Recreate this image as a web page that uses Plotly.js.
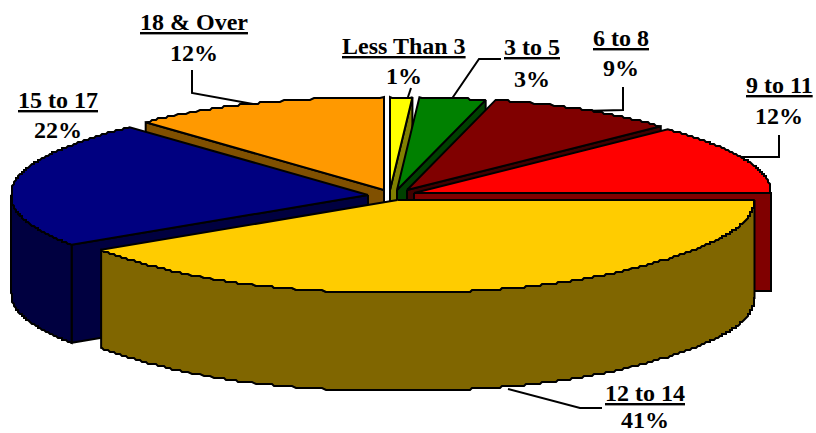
<!DOCTYPE html>
<html><head><meta charset="utf-8">
<script src="https://cdn.plot.ly/plotly-3.0.1.min.js"></script>
<style>html,body{margin:0;padding:0;background:#fff}#c{width:816px;height:433px}</style>
</head><body><div id="c"></div>
<script>
// Data
const categories = ["Less Than 3","3 to 5","6 to 8","9 to 11","12 to 14","15 to 17","18 & Over"];
const percents = [1,3,9,12,41,22,12];

// Styles
const topColors  = ["#FFFF00","#008000","#800000","#FF0000","#FFCC00","#000080","#FF9900"];
const sideColors = ["#808000","#004000","#400000","#800000","#806600","#000040","#805000"];

// Projection: explode centre of each slice, ellipse radii, extrusion depth (pixel-scaled axes)
const centreX = [390,397,407,414,397.5,368,384];
const centreY = [190,190,190,193,200,195,190];
const RX = 357, RY = 93, DEPTH = 98, SKEW = 0.025, STEP = 2;
const drawOrder = [0,1,2,3,6,5,4];

// Label placement
const labelX = [403.5,532,621,779,644.5,58,194];
const nameY  = [46,47,38,85,393,100,22];
const pctY   = [76,79,68,116,419.5,130,53];
const leaders = [
  {x:[411,407],y:[88,100]},
  {x:[501,479,451],y:[59,59,100]},
  {x:[623,623,583],y:[87,110,111]},
  {x:[779,779,741],y:[135,157,157]},
  {x:[602,580,508],y:[408,408,389]},
  {x:[],y:[]},
  {x:[192,192,253],y:[70,93,104]}
];

const rad = d => d*Math.PI/180;
function pt(i,deg,drop){
  const s=Math.sin(rad(deg)), q=4*s*s*(1-s*s);
  return [centreX[i]+RX*s*(1-SKEW*q*q), centreY[i]-RY*Math.cos(rad(deg))+(drop||0)];
}
function arc(i,a,b,drop){
  const n = Math.max(2,Math.ceil(Math.abs(b-a)/0.5)), out=[];
  for(let k=0;k<=n;k++){
    const p=pt(i,a+(b-a)*k/n,drop);
    if(k>0&&k<n){ p[0]=Math.round(p[0]/STEP)*STEP; p[1]=Math.round(p[1]/STEP)*STEP; }
    out.push(p);
  }
  return out;
}
function poly(pts,fill){
  const xs=pts.map(p=>p[0]).concat(pts[0][0]), ys=pts.map(p=>p[1]).concat(pts[0][1]);
  return {type:'scatter',mode:'lines',x:xs,y:ys,fill:'toself',fillcolor:fill,
    line:{color:'#000',width:2,shape:'linear',simplify:false},hoverinfo:'skip',showlegend:false};
}

const traces = [];
leaders.forEach(l=>{ if(l.x.length) traces.push({type:'scatter',mode:'lines',x:l.x,y:l.y,
  line:{color:'#000',width:2},hoverinfo:'skip',showlegend:false}); });

const total = percents.reduce((a,b)=>a+b,0);
const starts=[], ends=[]; let cum=0;
percents.forEach(v=>{ starts.push(cum/total*360); cum+=v; ends.push(cum/total*360); });

drawOrder.forEach(i=>{
  const a=starts[i], b=ends[i], apex=[centreX[i],centreY[i]], low=[centreX[i],centreY[i]+DEPTH];
  if(Math.sin(rad(b))>0.001) traces.push(poly([apex,pt(i,b),pt(i,b,DEPTH),low],sideColors[i]));
  if(Math.sin(rad(a))<-0.001) traces.push(poly([apex,pt(i,a),pt(i,a,DEPTH),low],sideColors[i]));
  const wa=Math.max(a,90), wb=Math.min(b,270);
  if(wb>wa) traces.push(poly(arc(i,wa,wb).concat(arc(i,wb,wa,DEPTH)),sideColors[i]));
  traces.push(poly([apex].concat(arc(i,a,b)),topColors[i]));
});

const labelFont = {family:'"Liberation Serif","Times New Roman",serif',size:24,color:'#000',weight:'bold'};
const annotations = [];
categories.forEach((c,i)=>{
  annotations.push({x:labelX[i],y:nameY[i],text:'<b>'+c.replace('&','&amp;')+'</b>',showarrow:false,xanchor:'center',yanchor:'middle',
    font:Object.assign({},labelFont,{lineposition:'under'})});
  annotations.push({x:labelX[i],y:pctY[i],text:'<b>'+percents[i]+'%</b>',showarrow:false,xanchor:'center',yanchor:'middle',font:labelFont});
});

Plotly.newPlot('c',traces,{
  width:816,height:433,margin:{l:0,r:0,t:0,b:0,pad:0},
  paper_bgcolor:'#fff',plot_bgcolor:'#fff',showlegend:false,
  xaxis:{range:[0,816],visible:false,fixedrange:true},
  yaxis:{range:[433,0],visible:false,fixedrange:true},
  annotations:annotations
},{displayModeBar:false,staticPlot:true});
</script>
</body></html>
